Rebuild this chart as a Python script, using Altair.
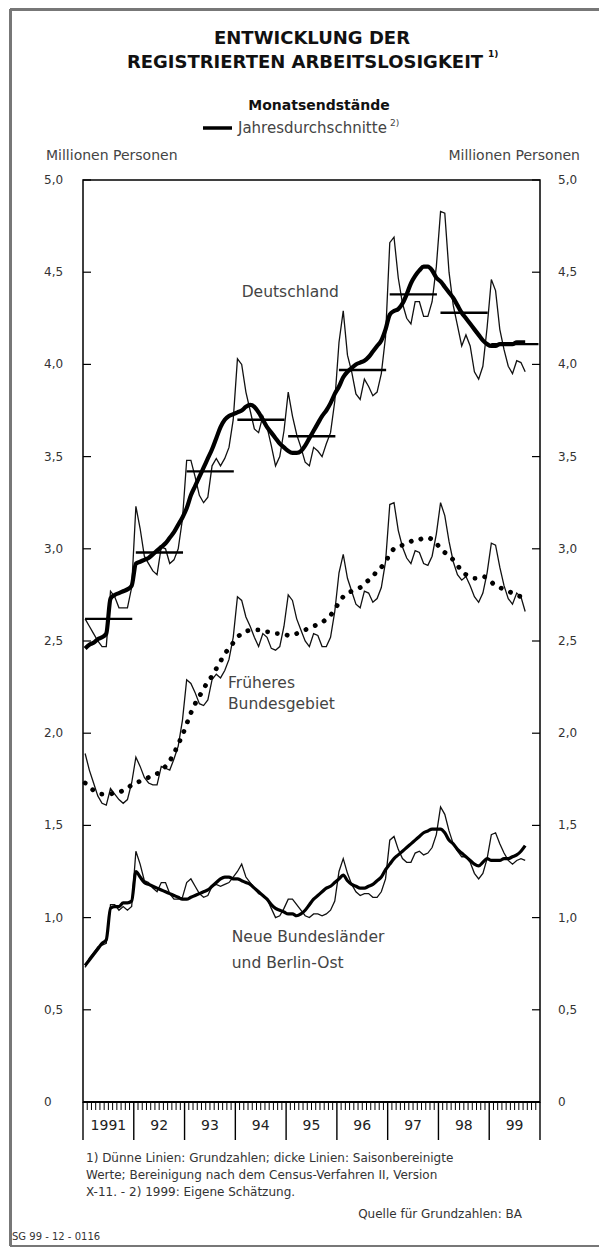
import altair as alt
import pandas as pd

FONT = "DejaVu Sans"
FIRST_YEAR = 1991

# ---------------- data (millions of persons, month-end values Jan 1991 - Sep 1999) ----------------
deutschland_raw = [
    2.62, 2.58, 2.54, 2.50, 2.47, 2.47, 2.77, 2.74, 2.68, 2.68, 2.68, 2.79,
    3.23, 3.11, 2.96, 2.92, 2.88, 2.86, 3.01, 3.00, 2.92, 2.94, 3.00, 3.16,
    3.48, 3.48, 3.39, 3.29, 3.25, 3.28, 3.45, 3.49, 3.45, 3.49, 3.55, 3.70,
    4.03, 4.00, 3.85, 3.75, 3.65, 3.63, 3.72, 3.66, 3.56, 3.45, 3.50, 3.64,
    3.85, 3.72, 3.62, 3.55, 3.47, 3.45, 3.55, 3.53, 3.50, 3.57, 3.63, 3.80,
    4.12, 4.29, 4.05, 3.96, 3.84, 3.81, 3.92, 3.88, 3.83, 3.85, 3.95, 4.15,
    4.66, 4.69, 4.47, 4.33, 4.25, 4.22, 4.34, 4.34, 4.26, 4.26, 4.34, 4.53,
    4.83, 4.82, 4.50, 4.32, 4.21, 4.10, 4.16, 4.10, 3.96, 3.92, 3.99, 4.20,
    4.46, 4.40, 4.19, 4.08, 3.99, 3.95, 4.02, 4.01, 3.96,
]
deutschland_sa = [
    2.46, 2.48, 2.49, 2.51, 2.52, 2.54, 2.73, 2.75, 2.76, 2.77, 2.78, 2.80,
    2.92, 2.93, 2.94, 2.95, 2.97, 2.99, 3.01, 3.03, 3.06, 3.09, 3.13, 3.17,
    3.22, 3.29, 3.34, 3.39, 3.44, 3.49, 3.54, 3.60, 3.66, 3.70, 3.72, 3.73,
    3.74, 3.75, 3.77, 3.78, 3.77, 3.74, 3.70, 3.66, 3.63, 3.60, 3.57, 3.55,
    3.53, 3.52, 3.52, 3.53, 3.56, 3.60, 3.64, 3.68, 3.72, 3.75, 3.79, 3.84,
    3.88, 3.93, 3.96, 3.98, 4.00, 4.01, 4.02, 4.04, 4.07, 4.10, 4.13, 4.19,
    4.27, 4.29, 4.30, 4.33, 4.38, 4.44, 4.48, 4.51, 4.53, 4.53, 4.51, 4.47,
    4.45, 4.42, 4.39, 4.36, 4.32, 4.28, 4.25, 4.22, 4.19, 4.16, 4.13, 4.11,
    4.10, 4.10, 4.11, 4.11, 4.11, 4.11, 4.12, 4.12, 4.12,
]
west_raw = [
    1.89, 1.80, 1.73, 1.66, 1.62, 1.61, 1.70, 1.67, 1.64, 1.62, 1.64, 1.73,
    1.87, 1.82, 1.76, 1.73, 1.72, 1.72, 1.82, 1.81, 1.80, 1.86, 1.93, 2.07,
    2.29, 2.27, 2.22, 2.16, 2.15, 2.18, 2.29, 2.32, 2.30, 2.34, 2.40, 2.52,
    2.74, 2.72, 2.63, 2.58, 2.52, 2.47, 2.54, 2.52, 2.46, 2.45, 2.47, 2.58,
    2.75, 2.72, 2.62, 2.56, 2.50, 2.47, 2.54, 2.53, 2.47, 2.47, 2.52, 2.66,
    2.87, 2.97, 2.84, 2.77, 2.70, 2.68, 2.77, 2.76, 2.71, 2.73, 2.79, 2.93,
    3.24, 3.25, 3.10, 3.01, 2.95, 2.92, 2.99, 2.98, 2.92, 2.91, 2.96, 3.08,
    3.25, 3.18, 3.04, 2.93, 2.86, 2.83, 2.85, 2.80, 2.74, 2.71, 2.76, 2.87,
    3.03, 3.02, 2.90, 2.80, 2.73, 2.70, 2.76, 2.74, 2.66,
]
west_sa = [
    1.73, 1.71, 1.69, 1.68, 1.67, 1.67, 1.67, 1.68, 1.68, 1.69, 1.70, 1.72,
    1.73, 1.74, 1.75, 1.76, 1.77, 1.78, 1.80, 1.82, 1.85, 1.89, 1.94, 1.99,
    2.05, 2.11, 2.16, 2.20, 2.24, 2.28, 2.31, 2.35, 2.39, 2.43, 2.46, 2.49,
    2.52, 2.54, 2.55, 2.56, 2.56, 2.56, 2.56, 2.55, 2.55, 2.54, 2.54, 2.54,
    2.53, 2.53, 2.54, 2.55, 2.56, 2.57, 2.58, 2.59, 2.60, 2.62, 2.64, 2.67,
    2.71, 2.74, 2.76, 2.77, 2.78, 2.79, 2.81, 2.83, 2.85, 2.88, 2.90, 2.93,
    2.97, 3.00, 3.01, 3.02, 3.03, 3.04, 3.05, 3.05, 3.06, 3.06, 3.05, 3.03,
    3.00, 2.98, 2.96, 2.94, 2.91, 2.88, 2.86, 2.85, 2.84, 2.84, 2.85, 2.84,
    2.82, 2.80, 2.79, 2.78, 2.77, 2.76, 2.75, 2.74, 2.73,
]
east_raw = [
    0.73, 0.78, 0.81, 0.84, 0.85, 0.86, 1.07, 1.07, 1.04, 1.06, 1.04, 1.06,
    1.36, 1.29, 1.20, 1.19, 1.16, 1.14, 1.19, 1.19, 1.13, 1.10, 1.10, 1.11,
    1.19, 1.21, 1.17, 1.13, 1.11, 1.12, 1.17, 1.18, 1.17, 1.18, 1.19, 1.22,
    1.25, 1.29, 1.22, 1.19, 1.16, 1.13, 1.12, 1.10, 1.05, 1.00, 1.01, 1.05,
    1.10, 1.10, 1.07, 1.04, 1.01, 1.00, 1.02, 1.02, 1.01, 1.02, 1.04, 1.09,
    1.25, 1.32, 1.24, 1.18, 1.14, 1.12, 1.13, 1.13, 1.11, 1.11, 1.14, 1.21,
    1.42, 1.44, 1.37, 1.32, 1.30, 1.30, 1.35, 1.36, 1.34, 1.35, 1.38, 1.45,
    1.60, 1.56, 1.47, 1.40, 1.36, 1.33, 1.33, 1.30, 1.24, 1.21, 1.24, 1.32,
    1.45, 1.46, 1.40, 1.35, 1.31, 1.29, 1.31, 1.32, 1.31,
]
east_sa = [
    0.74, 0.77, 0.80, 0.83, 0.86, 0.88, 1.05, 1.06, 1.06, 1.08, 1.08, 1.09,
    1.25, 1.22, 1.19, 1.18, 1.17, 1.16, 1.15, 1.14, 1.13, 1.12, 1.11, 1.10,
    1.10, 1.11, 1.12, 1.13, 1.14, 1.15, 1.17, 1.19, 1.21, 1.22, 1.22, 1.21,
    1.21, 1.20, 1.19, 1.18, 1.16, 1.14, 1.12, 1.10, 1.07, 1.05, 1.04, 1.03,
    1.02, 1.02, 1.01, 1.02, 1.04, 1.07, 1.10, 1.12, 1.14, 1.16, 1.17, 1.19,
    1.21, 1.23, 1.20, 1.18, 1.17, 1.16, 1.16, 1.17, 1.18, 1.20, 1.22, 1.26,
    1.29, 1.32, 1.34, 1.36, 1.38, 1.40, 1.42, 1.44, 1.46, 1.47, 1.48, 1.48,
    1.48, 1.46, 1.42, 1.40, 1.37, 1.35, 1.33, 1.31, 1.29, 1.28, 1.30, 1.32,
    1.31, 1.31, 1.31, 1.32, 1.32, 1.33, 1.34, 1.36, 1.39,
]
years = [1991, 1992, 1993, 1994, 1995, 1996, 1997, 1998, 1999]
annual_avg_deutschland = [2.62, 2.98, 3.42, 3.70, 3.61, 3.97, 4.38, 4.28, 4.11]
year_labels = ["1991", "92", "93", "94", "95", "96", "97", "98", "99"]
y_ticks = [0, 0.5, 1.0, 1.5, 2.0, 2.5, 3.0, 3.5, 4.0, 4.5, 5.0]
y_tick_labels = ["0", "0,5", "1,0", "1,5", "2,0", "2,5", "3,0", "3,5", "4,0", "4,5", "5,0"]

# annotation texts placed in data units (year, millions)
region_texts = ["Deutschland", "Früheres", "Bundesgebiet", "Neue Bundesländer", "und Berlin-Ost"]
region_t = [1994.125, 1993.855, 1993.855, 1993.93, 1993.93]
region_v = [4.39, 2.27, 2.16, 0.893, 0.755]

# ---------------- scales ----------------
XS = alt.Scale(domain=[1991, 2000], nice=False, zero=False)
YS = alt.Scale(domain=[0, 5], nice=False, zero=False)


def X(field):
    return alt.X(field, type="quantitative", scale=XS, axis=None)


def Y(field):
    return alt.Y(field, type="quantitative", scale=YS, axis=None)


def series_df(vals):
    return pd.DataFrame({"t": [FIRST_YEAR + (i + 0.5) / 12 for i in range(len(vals))], "v": vals})


def thin(vals):
    return alt.Chart(series_df(vals)).mark_line(color="#111", strokeWidth=1.3).encode(x=X("t"), y=Y("v"))


def thick(vals, width, **kw):
    return alt.Chart(series_df(vals)).mark_line(color="black", strokeWidth=width, interpolate="monotone", **kw).encode(
        x=X("t"), y=Y("v"))


def label(text, x, y, size=12, weight="normal", align="left", color="#222", baseline="middle"):
    return alt.Chart(pd.DataFrame({"s": [text]})).mark_text(
        align=align, baseline=baseline, fontSize=size, fontWeight=weight, color=color, font=FONT
    ).encode(x=alt.value(x), y=alt.value(y), text="s:N")


layers = []

# raw (thin) lines
layers += [thin(deutschland_raw), thin(west_raw), thin(east_raw)]
# seasonally adjusted (thick) lines
layers.append(thick(east_sa, 3.2))
layers.append(thick(west_sa, 4.8, strokeDash=[0.1, 10], strokeCap="round"))
layers.append(thick(deutschland_sa, 4.2))

# annual averages
avg_df = pd.DataFrame({"x0": [y + 0.04 for y in years], "x1": [y + 0.97 for y in years], "v": annual_avg_deutschland})
layers.append(alt.Chart(avg_df).mark_rule(color="black", strokeWidth=2.4).encode(
    x=X("x0"), x2=alt.X2("x1"), y=Y("v")))

# y ticks (inside) and labels on both sides
ytick_df = pd.DataFrame({"v": y_ticks, "lab": y_tick_labels})
layers.append(alt.Chart(ytick_df).mark_rule(color="black", strokeWidth=1.2).encode(
    y=Y("v"), x=alt.value(0), x2=alt.value(8)))
layers.append(alt.Chart(ytick_df).mark_rule(color="black", strokeWidth=1.2).encode(
    y=Y("v"), x=alt.value(449), x2=alt.value(457)))
layers.append(alt.Chart(ytick_df).mark_text(align="left", baseline="middle", fontSize=12, font=FONT, color="#333").encode(
    y=Y("v"), x=alt.value(-39), text="lab:N"))
layers.append(alt.Chart(ytick_df).mark_text(align="left", baseline="middle", fontSize=12, font=FONT, color="#333").encode(
    y=Y("v"), x=alt.value(475), text="lab:N"))

# x axis: month ticks, year separators, year labels
month_df = pd.DataFrame({"t": [FIRST_YEAR + k / 12 for k in range(1, 108) if k % 12 != 0]})
layers.append(alt.Chart(month_df).mark_rule(color="black", strokeWidth=1).encode(
    x=X("t"), y=alt.value(922), y2=alt.value(930)))
sep_df = pd.DataFrame({"t": years + [2000]})
layers.append(alt.Chart(sep_df).mark_rule(color="black", strokeWidth=1.4).encode(
    x=X("t"), y=alt.value(922), y2=alt.value(960)))
ylab_df = pd.DataFrame({"t": [y + 0.5 for y in years], "lab": year_labels})
layers.append(alt.Chart(ylab_df).mark_text(baseline="middle", fontSize=14, font=FONT, color="#222").encode(
    x=X("t"), y=alt.value(946), text="lab:N"))
# bottom axis line (heavier)
layers.append(alt.Chart(pd.DataFrame({"a": [0]})).mark_rule(color="black", strokeWidth=2).encode(
    x=alt.value(0), x2=alt.value(457), y=alt.value(922)))

# region annotations
reg_df = pd.DataFrame({"t": region_t, "v": region_v, "s": region_texts})
layers.append(alt.Chart(reg_df).mark_text(align="left", baseline="middle", fontSize=15.5, font=FONT, color="#444").encode(
    x=X("t"), y=Y("v"), text="s:N"))

# titles & legend
layers.append(label("ENTWICKLUNG DER", 229, -141, size=18, weight="bold", align="center", color="#111"))
layers.append(label("REGISTRIERTEN ARBEITSLOSIGKEIT", 222, -117, size=18, weight="bold", align="center", color="#111"))
layers.append(label("1)", 405, -126, size=9, weight="bold", color="#111"))
layers.append(label("Monatsendstände", 236, -74, size=14, weight="bold", align="center", color="#111"))
layers.append(alt.Chart(pd.DataFrame({"a": [0]})).mark_rule(color="black", strokeWidth=3.5).encode(
    x=alt.value(120), x2=alt.value(149), y=alt.value(-52)))
layers.append(label("Jahresdurchschnitte", 155, -52, size=15, color="#444"))
layers.append(label("2)", 307, -57, size=9, color="#444"))
layers.append(label("Millionen Personen", -37, -24, size=14, color="#444"))
layers.append(label("Millionen Personen", 497, -24, size=14, color="#444", align="right"))

# footnotes
layers.append(label("1) Dünne Linien: Grundzahlen; dicke Linien: Saisonbereinigte", 3, 978, size=12, color="#333"))
layers.append(label("Werte; Bereinigung nach dem Census-Verfahren II, Version", 3, 995, size=12, color="#333"))
layers.append(label("X-11. - 2) 1999: Eigene Schätzung.", 3, 1012, size=12, color="#333"))
layers.append(label("Quelle für Grundzahlen: BA", 439, 1034, size=12, color="#333", align="right"))
layers.append(label("SG 99 - 12 - 0116", -71, 1057, size=10, color="#333"))

# outer frame (top and left border)
layers.append(alt.Chart(pd.DataFrame({"a": [0]})).mark_rule(color="#777", strokeWidth=3).encode(
    x=alt.value(-73), x2=alt.value(516), y=alt.value(-170.5)))
layers.append(alt.Chart(pd.DataFrame({"a": [0]})).mark_rule(color="#777", strokeWidth=3).encode(
    x=alt.value(-72.5), y=alt.value(-171), y2=alt.value(1066)))
layers.append(alt.Chart(pd.DataFrame({"a": [0]})).mark_rule(color="#777", strokeWidth=2).encode(
    x=alt.value(-73), x2=alt.value(516), y=alt.value(1066)))

chart = alt.layer(*layers).properties(
    width=457,
    height=922,
    autosize=alt.AutoSizeParams(type="none"),
    padding={"left": 75, "top": 172, "right": 59, "bottom": 146},
    background="white",
).configure_view(stroke="black", strokeWidth=1.5)

chart.save("out.html", embed_options={"renderer": "svg", "actions": False})
